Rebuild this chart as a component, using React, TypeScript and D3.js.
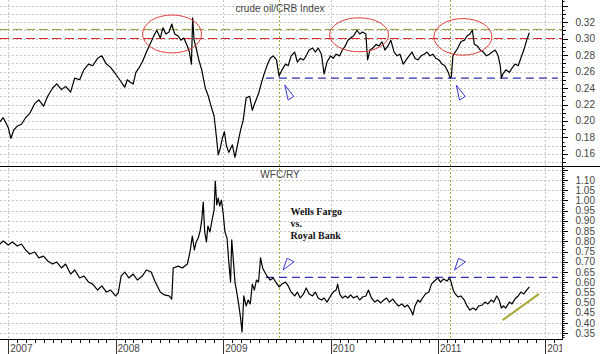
import React from "react";
import * as d3 from "d3";

// ---- data ----
const crudeDates = [
  "2006-12-04","2006-12-15",
  "2007-01-01","2007-01-10","2007-01-20","2007-02-01","2007-02-15","2007-03-01","2007-03-15","2007-04-01","2007-04-15","2007-05-01","2007-05-15","2007-06-01","2007-06-15","2007-07-01","2007-07-15","2007-08-01","2007-08-15","2007-09-01","2007-09-15","2007-10-01","2007-10-15","2007-11-01","2007-11-15","2007-12-01","2007-12-15",
  "2008-01-01","2008-01-15","2008-02-01","2008-02-10","2008-02-20","2008-03-01","2008-03-10","2008-03-20","2008-04-01","2008-04-15","2008-05-01","2008-05-10","2008-05-20","2008-06-01","2008-06-10","2008-06-20","2008-07-01","2008-07-10","2008-07-20","2008-08-01","2008-08-10","2008-08-20","2008-09-01","2008-09-08","2008-09-15","2008-09-19","2008-09-24","2008-10-01","2008-10-10","2008-10-20","2008-11-01","2008-11-10","2008-11-20","2008-12-01","2008-12-10","2008-12-15","2008-12-22","2008-12-29",
  "2009-01-05","2009-01-12","2009-01-20","2009-02-01","2009-02-10","2009-02-18","2009-03-01","2009-03-10","2009-03-20","2009-04-01","2009-04-10","2009-04-20","2009-05-01","2009-05-10","2009-05-20","2009-06-01","2009-06-10","2009-06-20","2009-07-01","2009-07-10","2009-07-20","2009-08-01","2009-08-10","2009-08-20","2009-09-01","2009-09-10","2009-09-20","2009-10-01","2009-10-10","2009-10-20","2009-11-01","2009-11-10","2009-11-20","2009-12-01","2009-12-10","2009-12-20",
  "2010-01-01","2010-01-10","2010-01-20","2010-02-01","2010-02-10","2010-02-20","2010-03-01","2010-03-10","2010-03-20","2010-04-01","2010-04-10","2010-04-20","2010-05-01","2010-05-07","2010-05-15","2010-05-25","2010-06-05","2010-06-15","2010-06-25","2010-07-05","2010-07-15","2010-07-25","2010-08-05","2010-08-15","2010-08-25","2010-09-05","2010-09-15","2010-09-25","2010-10-05","2010-10-15","2010-10-25","2010-11-05","2010-11-15","2010-11-25","2010-12-05","2010-12-15","2010-12-25",
  "2011-01-05","2011-01-15","2011-01-25","2011-02-05","2011-02-12","2011-02-16","2011-02-21","2011-03-01","2011-03-10","2011-03-20","2011-04-01","2011-04-10","2011-04-20","2011-04-28","2011-05-05","2011-05-15","2011-05-25","2011-06-05","2011-06-15","2011-06-25","2011-07-05","2011-07-15","2011-07-25","2011-08-01","2011-08-05","2011-08-10","2011-08-20","2011-09-01","2011-09-10","2011-09-20","2011-10-01","2011-10-10","2011-10-20","2011-10-30","2011-11-08"
];
const crudeRatio = [
  0.199,0.204,
  0.192,0.179,0.189,0.194,0.196,0.204,0.209,0.221,0.2255,0.218,0.230,0.240,0.245,0.238,0.242,0.235,0.252,0.250,0.262,0.269,0.267,0.276,0.279,0.269,0.265,
  0.257,0.250,0.241,0.250,0.247,0.245,0.259,0.264,0.2715,0.2836,0.296,0.303,0.310,0.3006,0.313,0.3055,0.308,0.3176,0.3055,0.303,0.298,0.3006,0.291,0.2836,0.269,0.325,0.298,0.2885,0.274,0.262,0.240,0.2315,0.219,0.206,0.177,0.159,0.167,0.179,
  0.187,0.170,0.162,0.171,0.156,0.170,0.189,0.201,0.228,0.230,0.213,0.223,0.233,0.245,0.257,0.269,0.276,0.279,0.274,0.2545,0.262,0.269,0.267,0.279,0.2836,0.2715,0.276,0.274,0.279,0.286,0.2885,0.2836,0.2885,0.281,0.257,0.2715,
  0.279,0.276,0.281,0.279,0.286,0.291,0.298,0.3006,0.303,0.310,0.3055,0.308,0.3055,0.274,0.286,0.2885,0.293,0.291,0.296,0.286,0.291,0.298,0.2836,0.279,0.281,0.269,0.274,0.279,0.2836,0.276,0.274,0.279,0.281,0.2836,0.279,0.281,0.276,
  0.274,0.269,0.267,0.259,0.252,0.2545,0.279,0.2836,0.2885,0.296,0.298,0.303,0.3055,0.310,0.293,0.291,0.286,0.2836,0.279,0.281,0.2836,0.286,0.279,0.267,0.252,0.257,0.262,0.259,0.264,0.269,0.267,0.276,0.286,0.298,0.307
];

const wfcDates = [
  "2006-12-04","2006-12-15",
  "2007-01-01","2007-01-15","2007-02-01","2007-02-15","2007-03-01","2007-03-15","2007-04-01","2007-04-15","2007-05-01","2007-05-15","2007-06-01","2007-06-15","2007-07-01","2007-07-15","2007-08-01","2007-08-15","2007-09-01","2007-09-15","2007-10-01","2007-10-15","2007-11-01","2007-11-15","2007-12-01","2007-12-15",
  "2008-01-01","2008-01-10","2008-01-20","2008-02-01","2008-02-15","2008-03-01","2008-03-15","2008-04-01","2008-04-15","2008-05-01","2008-05-15","2008-06-01","2008-06-15","2008-07-01","2008-07-10","2008-07-15","2008-08-01","2008-08-15","2008-09-01","2008-09-10","2008-09-18","2008-09-25","2008-10-01","2008-10-08","2008-10-15","2008-10-20","2008-10-25","2008-10-30","2008-11-05","2008-11-10","2008-11-17","2008-11-24","2008-12-01","2008-12-05","2008-12-10","2008-12-15","2008-12-20","2008-12-26",
  "2009-01-01","2009-01-07","2009-01-14","2009-01-20","2009-01-26","2009-01-30","2009-02-05","2009-02-10","2009-02-16","2009-02-23","2009-03-02","2009-03-06","2009-03-12","2009-03-20","2009-03-27","2009-04-03","2009-04-10","2009-04-17","2009-04-24","2009-05-01","2009-05-08","2009-05-15","2009-05-22","2009-06-01","2009-06-10","2009-06-20","2009-07-01","2009-07-10","2009-07-20","2009-08-01","2009-08-10","2009-08-20","2009-09-01","2009-09-10","2009-09-20","2009-10-01","2009-10-10","2009-10-20","2009-11-01","2009-11-10","2009-11-20","2009-12-01","2009-12-10","2009-12-20",
  "2010-01-01","2010-01-10","2010-01-20","2010-01-25","2010-02-01","2010-02-10","2010-02-20","2010-03-01","2010-03-10","2010-03-20","2010-04-01","2010-04-10","2010-04-20","2010-05-01","2010-05-10","2010-05-20","2010-06-01","2010-06-10","2010-06-20","2010-07-01","2010-07-10","2010-07-20","2010-08-01","2010-08-10","2010-08-20","2010-09-01","2010-09-10","2010-09-20","2010-10-01","2010-10-08","2010-10-15","2010-10-25","2010-11-01","2010-11-10","2010-11-20","2010-12-01","2010-12-10","2010-12-20",
  "2011-01-01","2011-01-10","2011-01-20","2011-02-01","2011-02-10","2011-02-15","2011-02-22","2011-03-01","2011-03-10","2011-03-20","2011-04-01","2011-04-10","2011-04-20","2011-05-01","2011-05-10","2011-05-20","2011-06-01","2011-06-10","2011-06-20","2011-07-01","2011-07-10","2011-07-20","2011-07-28","2011-08-05","2011-08-12","2011-08-20","2011-09-01","2011-09-10","2011-09-20","2011-10-01","2011-10-10","2011-10-20","2011-10-30","2011-11-08"
];
const wfcRatio = [
  0.787,0.802,
  0.782,0.797,0.777,0.787,0.758,0.738,0.748,0.719,0.728,0.704,0.689,0.699,0.670,0.689,0.640,0.660,0.621,0.631,0.601,0.591,0.562,0.582,0.552,0.562,
  0.533,0.547,0.631,0.650,0.621,0.640,0.611,0.631,0.660,0.650,0.601,0.552,0.538,0.533,0.518,0.670,0.679,0.670,0.689,0.748,0.826,0.758,0.797,0.816,0.855,0.904,0.992,0.846,0.797,0.875,0.846,0.904,0.953,1.095,0.978,1.012,0.973,1.002,
  0.934,0.846,0.816,0.699,0.601,0.807,0.699,0.601,0.552,0.489,0.415,0.357,0.533,0.484,0.513,0.494,0.591,0.562,0.611,0.601,0.719,0.670,0.650,0.626,0.611,0.621,0.596,0.577,0.591,0.601,0.582,0.552,0.533,0.552,0.523,0.543,0.572,0.543,0.533,0.552,0.523,0.513,0.523,0.503,
  0.533,0.552,0.562,0.591,0.543,0.523,0.533,0.523,0.538,0.523,0.533,0.513,0.528,0.533,0.562,0.523,0.503,0.513,0.499,0.513,0.523,0.503,0.518,0.499,0.484,0.494,0.479,0.489,0.464,0.440,0.484,0.513,0.503,0.523,0.543,0.552,0.591,0.606,
  0.621,0.601,0.616,0.606,0.621,0.601,0.562,0.543,0.528,0.533,0.513,0.484,0.464,0.474,0.464,0.484,0.489,0.503,0.494,0.513,0.503,0.533,0.513,0.474,0.484,0.474,0.503,0.494,0.518,0.533,0.552,0.543,0.562,0.577
];

const topTickLabels = [0.16, 0.18, 0.2, 0.22, 0.24, 0.26, 0.28, 0.3, 0.32];
const bottomTickLabels = [0.35, 0.4, 0.45, 0.5, 0.55, 0.6, 0.65, 0.7, 0.75, 0.8, 0.85, 0.9, 0.95, 1.0, 1.05, 1.1];
const yearTicks = ["2007-01-01", "2008-01-01", "2009-01-01", "2010-01-01", "2011-01-01", "2012-01-01"];

const topTitle = "crude oil/CRB Index";
const bottomTitle = "WFC/RY";
const noteLines = ["Wells Fargo", "vs.", "Royal Bank"];

// reference levels / annotation anchors (data space)
const redLevel = 0.3;
const oliveLevel = 0.311;
const blueTopLevel = 0.252;
const blueBottomLevel = 0.624;
const blueStart = "2009-05-26";
const blueEnd = "2012-02-13";
const markerDates = ["2009-07-09", "2011-02-12"];
const ellipses = [
  { date: "2008-07-11", value: 0.3055, rx: 29.5, ry: 19 },
  { date: "2010-04-08", value: 0.3045, rx: 29.5, ry: 17 },
  { date: "2011-03-27", value: 0.302, rx: 29, ry: 18.3 },
];
const trendStart = { date: "2011-08-09", value: 0.415 };
const trendEnd = { date: "2011-12-11", value: 0.543 };

const W = 600;
const H = 354;
const R = 562; // right axis x
const SEP = 166;
const BOT = 339;
const FONT = "'Liberation Sans', Arial, sans-serif";

export default function App() {
  const parse = (s: string) => new Date(s + "T00:00:00Z");
  const x = d3.scaleUtc().domain([parse("2006-12-04"), parse("2012-02-27")]).range([0, R]);
  const yTop = d3.scaleLinear().domain([0.1458, 0.3467]).range([165.7, 0]);
  const yBot = d3.scaleLinear().domain([0.3225, 1.1685]).range([BOT, SEP]);

  const crude = crudeDates.map((d, i) => ({ d: parse(d), v: crudeRatio[i] }));
  const wfc = wfcDates.map((d, i) => ({ d: parse(d), v: wfcRatio[i] }));
  const lineTop = d3.line<{ d: Date; v: number }>().x((p) => x(p.d)).y((p) => yTop(p.v));
  const lineBot = d3.line<{ d: Date; v: number }>().x((p) => x(p.d)).y((p) => yBot(p.v));

  const topGrid = d3.range(15, 35).map((i) => i / 100);
  const botGrid = d3.range(7, 24).map((i) => i * 0.05);
  const topMinor = d3.range(30, 70).map((i) => i * 0.005);
  const botMinor = d3.range(33, 117).map((i) => i / 100);
  const months = d3.utcMonth.range(parse("2006-12-01"), parse("2012-03-01")).filter((m) => m.getUTCMonth() !== 0);
  const years = yearTicks.map(parse);

  const grid = "#c4c4c4";
  const textCol = "#444";

  const triTop = (date: string) => {
    const px = x(parse(date));
    return `M${px + 6},${85} L${px + 15},${96.5} L${px + 9.3},${100} Z`;
  };
  const triBot = (date: string) => {
    const px = x(parse(date));
    return `M${px + 8.3},${258.3} L${px + 15.3},${261.7} L${px + 4.3},${270} Z`;
  };

  return (
    <svg width={W} height={H} style={{ position: "absolute", left: 0, top: 0, background: "#fff" }} fontFamily={FONT}>
      <defs>
        <clipPath id="cTop"><rect x={0} y={0} width={R} height={SEP} /></clipPath>
        <clipPath id="cBot"><rect x={0} y={SEP} width={R} height={BOT - SEP} /></clipPath>
        <clipPath id="cAxis"><rect x={0} y={BOT} width={R} height={H - BOT} /></clipPath>
      </defs>
      <rect x={0} y={0} width={W} height={H} fill="#fff" />

      {/* horizontal grid */}
      <g stroke={grid} strokeDasharray="2,2" strokeWidth={1}>
        {topGrid.map((v) => (
          <line key={"tg" + v} x1={0} x2={R} y1={Math.round(yTop(v)) + 0.5} y2={Math.round(yTop(v)) + 0.5} />
        ))}
        {botGrid.filter((v) => yBot(v) > SEP + 2 && yBot(v) < BOT - 1).map((v) => (
          <line key={"bg" + v} x1={0} x2={R} y1={Math.round(yBot(v)) + 0.5} y2={Math.round(yBot(v)) + 0.5} />
        ))}
        {years.map((d, i) => (
          <line key={"vg" + i} x1={Math.round(x(d)) + 0.5} x2={Math.round(x(d)) + 0.5} y1={0} y2={BOT} />
        ))}
      </g>

      {/* olive dotted vertical markers */}
      <g stroke="#a8a840" strokeDasharray="2,2" strokeWidth={1}>
        {markerDates.map((d) => (
          <line key={d} x1={Math.round(x(parse(d))) + 0.5} x2={Math.round(x(parse(d))) + 0.5} y1={0} y2={BOT} />
        ))}
      </g>

      {/* top panel reference lines */}
      <g clipPath="url(#cTop)" fill="none">
        <line x1={0} x2={R} y1={yTop(oliveLevel)} y2={yTop(oliveLevel)} stroke="#9c9c3a" strokeWidth={1} strokeDasharray="9,4" />
        <line x1={0} x2={R} y1={yTop(redLevel)} y2={yTop(redLevel)} stroke="#e02828" strokeWidth={1.2} strokeDasharray="9,4" />
        <line x1={x(parse(blueStart))} x2={x(parse(blueEnd))} y1={yTop(blueTopLevel)} y2={yTop(blueTopLevel)} stroke="#3030b0" strokeWidth={1.2} strokeDasharray="8,5" />
        <path d={lineTop(crude) || ""} stroke="#000" strokeWidth={1.2} strokeLinejoin="round" />
        {ellipses.map((e, i) => (
          <ellipse key={i} cx={x(parse(e.date))} cy={yTop(e.value)} rx={e.rx} ry={e.ry} stroke="#e03c3c" strokeWidth={1} />
        ))}
        {markerDates.map((d) => (
          <path key={"tt" + d} d={triTop(d)} stroke="#3a3ad0" strokeWidth={1} fill="none" />
        ))}
      </g>

      {/* bottom panel */}
      <g clipPath="url(#cBot)" fill="none">
        <line x1={x(parse(blueStart))} x2={x(parse(blueEnd))} y1={yBot(blueBottomLevel)} y2={yBot(blueBottomLevel)} stroke="#3030b0" strokeWidth={1.2} strokeDasharray="8,5" />
        <path d={lineBot(wfc) || ""} stroke="#000" strokeWidth={1.2} strokeLinejoin="round" />
        {markerDates.map((d) => (
          <path key={"tb" + d} d={triBot(d)} stroke="#3a3ad0" strokeWidth={1} fill="none" />
        ))}
        <line
          x1={x(parse(trendStart.date))}
          y1={yBot(trendStart.value)}
          x2={x(parse(trendEnd.date))}
          y2={yBot(trendEnd.value)}
          stroke="#a8a834"
          strokeWidth={2}
        />
      </g>

      {/* titles */}
      <text x={280} y={12} textAnchor="middle" fontSize={10} fill={textCol}>{topTitle}</text>
      <text x={280} y={178} textAnchor="middle" fontSize={10} fill={textCol}>{bottomTitle}</text>
      {noteLines.map((t, i) => (
        <text key={t} x={290.5} y={214.5 + i * 12} fontSize={10} fontWeight="bold" fontFamily="'Liberation Serif', 'Times New Roman', serif" fill="#111">{t}</text>
      ))}

      {/* frame lines */}
      <line x1={0} x2={W} y1={SEP + 0.5} y2={SEP + 0.5} stroke="#000" strokeWidth={1} />
      <line x1={0} x2={R} y1={BOT + 0.5} y2={BOT + 0.5} stroke="#000" strokeWidth={1} />
      <line x1={R + 0.5} x2={R + 0.5} y1={0} y2={BOT + 1} stroke="#000" strokeWidth={1} />

      {/* right axis ticks */}
      <g stroke="#000" strokeWidth={1}>
        {topMinor.filter((v) => yTop(v) > 1 && yTop(v) < SEP - 1).map((v) => {
          const k = Math.round(v * 1000);
          const len = k % 20 === 0 ? 6 : k % 10 === 0 ? 4 : 2.5;
          const yy = Math.round(yTop(v)) + 0.5;
          return <line key={"tm" + k} x1={R} x2={R + len} y1={yy} y2={yy} />;
        })}
        {botMinor.filter((v) => yBot(v) > SEP + 1 && yBot(v) < BOT - 1).map((v) => {
          const k = Math.round(v * 100);
          const len = k % 5 === 0 ? 6 : 2.5;
          const yy = Math.round(yBot(v)) + 0.5;
          return <line key={"bm" + k} x1={R} x2={R + len} y1={yy} y2={yy} />;
        })}
      </g>
      <g fontSize={10} fill={textCol} textAnchor="end">
        {topTickLabels.map((v) => (
          <text key={"tl" + v} x={595} y={yTop(v) + 3.5}>{v.toFixed(2)}</text>
        ))}
        {bottomTickLabels.map((v) => (
          <text key={"bl" + v} x={595} y={yBot(v) + 3.5}>{v.toFixed(2)}</text>
        ))}
      </g>

      {/* x axis */}
      <g stroke="#000" strokeWidth={1}>
        {months.map((m, i) => (
          <line key={"mt" + i} x1={Math.round(x(m)) + 0.5} x2={Math.round(x(m)) + 0.5} y1={BOT} y2={BOT + 4} />
        ))}
      </g>
      <g clipPath="url(#cAxis)">
        {years.map((d, i) => (
          <g key={"yl" + i}>
            <line x1={Math.round(x(d)) + 0.5} x2={Math.round(x(d)) + 0.5} y1={BOT} y2={H} stroke="#333" strokeWidth={1} />
            <text x={x(d) + 2} y={352} fontSize={10} fill={textCol}>{d3.utcFormat("%Y")(d)}</text>
          </g>
        ))}
      </g>
    </svg>
  );
}
